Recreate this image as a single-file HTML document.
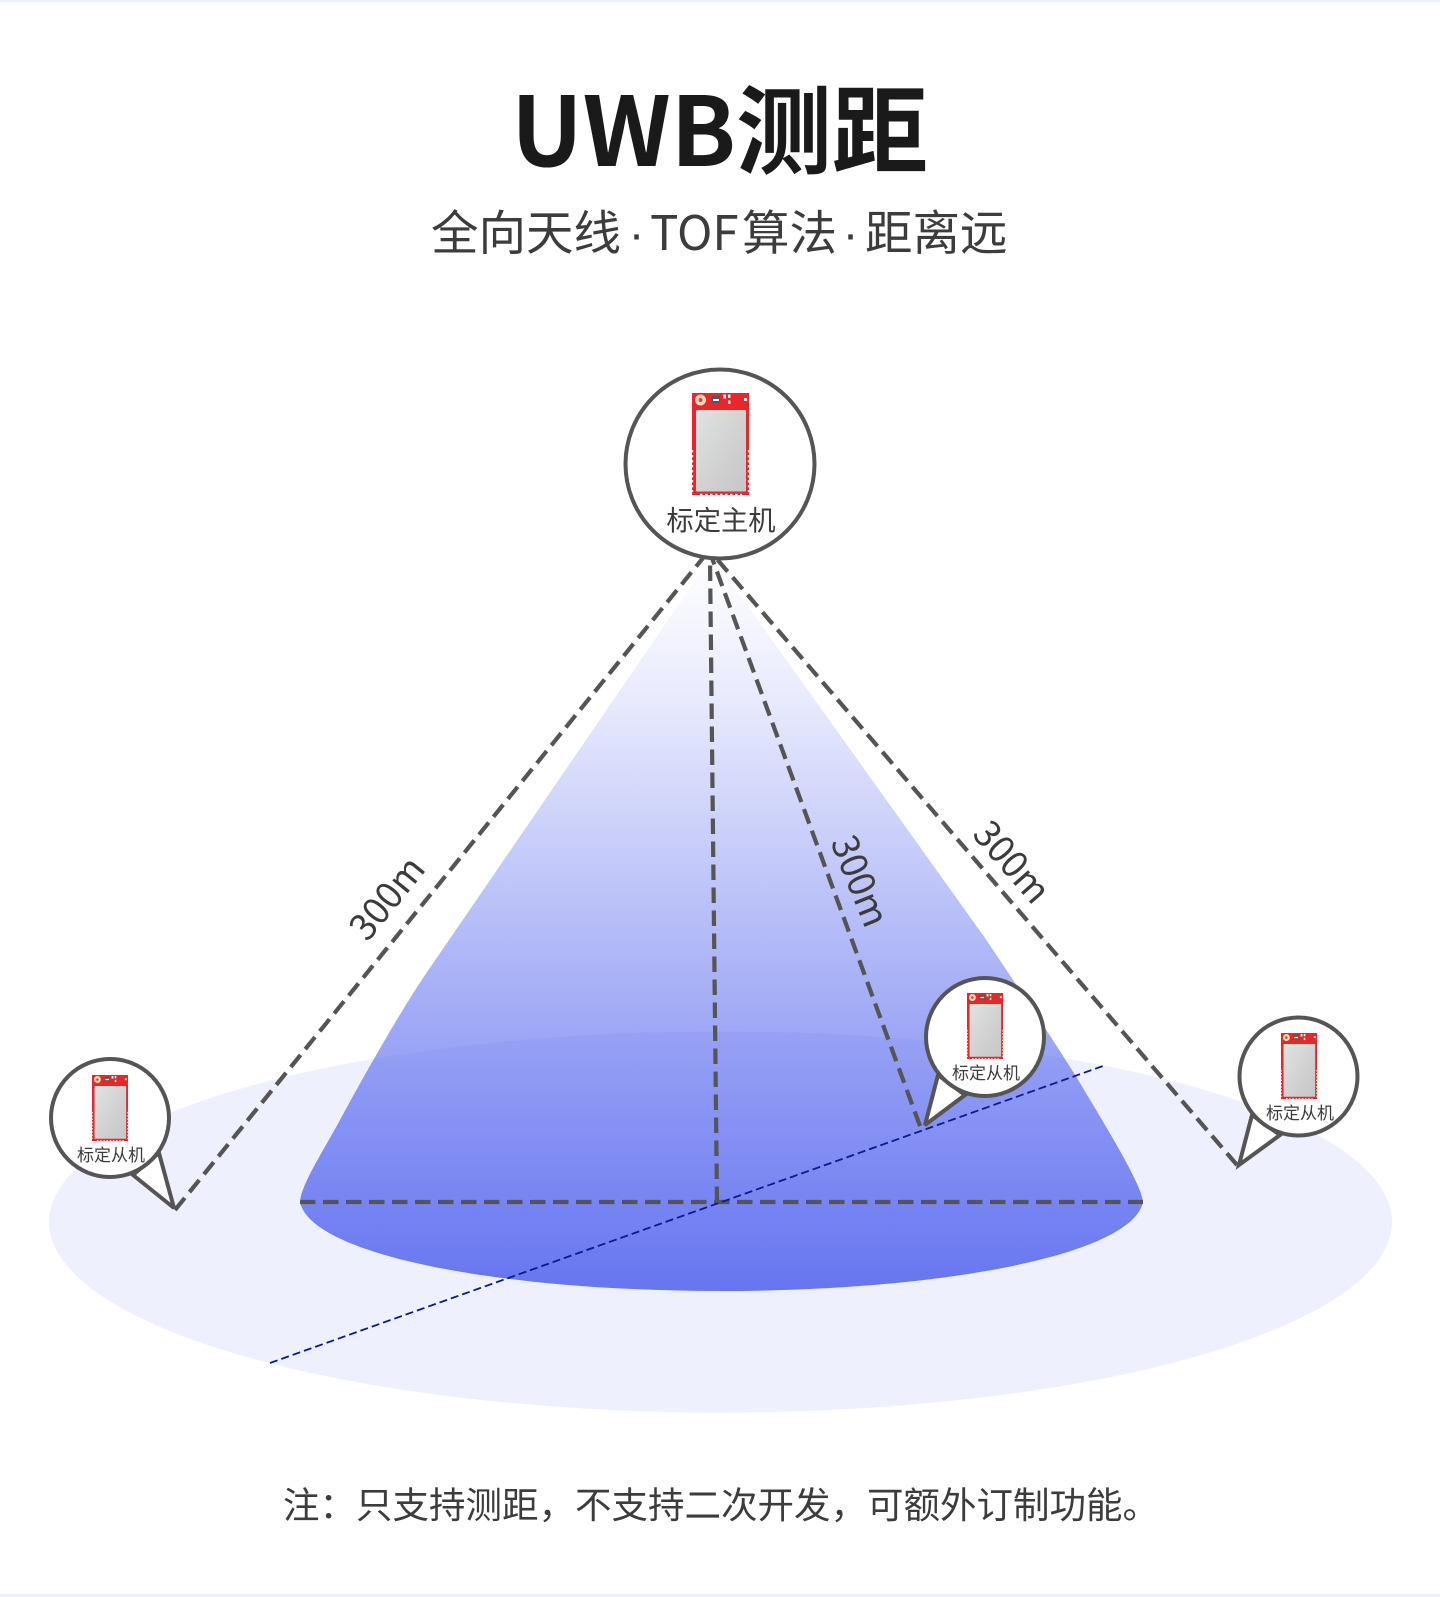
<!DOCTYPE html>
<html lang="zh"><head><meta charset="utf-8"><title>UWB测距</title>
<style>html,body{margin:0;padding:0;background:#fff}svg{display:block}text{font-family:"Noto Sans CJK SC","Liberation Sans",sans-serif}</style></head>
<body>
<svg width="1440" height="1597" viewBox="0 0 1440 1597" xmlns="http://www.w3.org/2000/svg">
<defs>
<linearGradient id="cone" gradientUnits="userSpaceOnUse" x1="0" y1="556" x2="0" y2="1291">
<stop offset="0" stop-color="#5b6bef" stop-opacity="0"/><stop offset=".196" stop-color="#5b6bef" stop-opacity=".14"/><stop offset=".604" stop-color="#5b6bef" stop-opacity=".55"/><stop offset="1" stop-color="#5b6bef" stop-opacity=".92"/></linearGradient>
<linearGradient id="shield" x1="0" y1="0" x2="1" y2="1"><stop offset="0" stop-color="#e0e3e3"/><stop offset=".6" stop-color="#d0d0d0"/><stop offset="1" stop-color="#c6c6c6"/></linearGradient>
<g id="chip">
<rect x="0" y="0" width="57" height="102" fill="#e8262c"/>
<line x1=".6" y1="57" x2=".6" y2="99" stroke="#fbe9e4" stroke-width="1.200" stroke-dasharray="2.400 2.600"/>
<line x1="56.400" y1="57" x2="56.400" y2="99" stroke="#fbe9e4" stroke-width="1.200" stroke-dasharray="2.400 2.600"/>
<line x1="8" y1="101.400" x2="50" y2="101.400" stroke="#fff" stroke-width="1.200" stroke-dasharray="2.400 2.600"/>
<rect x="4" y="17" width="50" height="81.500" rx="1" fill="url(#shield)"/>
<circle cx="8.500" cy="7" r="5.500" fill="#efd9b8"/><circle cx="8.500" cy="7" r="2" fill="#b9583f"/>
<rect x="20" y="3" width="8" height="7" fill="#555"/><rect x="21" y="6" width="6" height="2" fill="#eee"/><rect x="31" y="1.500" width="3" height="4" fill="#eee"/><rect x="36" y="1.500" width="2.500" height="3.500" fill="#eee"/><rect x="36" y="7.500" width="2.500" height="3.500" fill="#eee"/><rect x="52" y="5" width="3" height="3" fill="#eee"/>
</g>
</defs>
<rect width="1440" height="1597" fill="#fff"/>
<rect width="1440" height="2" fill="#eef0fd"/>
<rect y="1594" width="1440" height="3" fill="#eef0fd"/>

<text x="511" y="166" font-size="96" font-weight="700" fill="#1a1a1a">UWB测距</text>
<text y="250" font-size="47.500" fill="#3c3c3c"><tspan x="431">全向天线</tspan><tspan x="650">TOF</tspan><tspan x="742">算法</tspan><tspan x="865">距离远</tspan></text>
<text x="636.500" y="250" text-anchor="middle" font-size="47.500" fill="#3c3c3c" style="font-family:'Liberation Sans',sans-serif">·</text>
<text x="850.500" y="250" text-anchor="middle" font-size="47.500" fill="#3c3c3c" style="font-family:'Liberation Sans',sans-serif">·</text>

<ellipse cx="720.500" cy="1222" rx="671.500" ry="190.500" fill="#eef0fd"/>
<path d="M712 556 L425 975 C395 1020 360 1083 340 1120 C322 1153 301 1185 300 1202 C311 1255 500 1291 721 1291 C942 1291 1132 1255 1143 1202 C1142 1185 1105 1125 1080 1083 C1060 1050 1020 990 985 938 Z" fill="url(#cone)"/>

<g fill="none" stroke="#555" stroke-width="4.200" stroke-dasharray="15.500 7.500">
<line x1="175" y1="1210" x2="703" y2="558"/>
<line x1="717" y1="1202" x2="710" y2="558"/>
<line x1="920" y1="1126" x2="712" y2="558"/>
<line x1="1237" y1="1165" x2="716" y2="558"/>
<line x1="300" y1="1202" x2="1143" y2="1202"/>
</g>
<line x1="270" y1="1363" x2="1103" y2="1066" stroke="#0b1a8f" stroke-width="1.800" stroke-dasharray="8 4"/>

<text transform="translate(387 898) rotate(-51)" text-anchor="middle" dy="13" font-size="36.500" fill="#3c3c3c">300m</text>
<text transform="translate(860 881) rotate(68)" text-anchor="middle" dy="13" font-size="36.500" fill="#3c3c3c">300m</text>
<text transform="translate(1012 862) rotate(49)" text-anchor="middle" dy="13" font-size="36.500" fill="#3c3c3c">300m</text>

<!-- main -->
<circle cx="720" cy="464" r="94.500" fill="#fff" stroke="#555" stroke-width="4"/>
<use href="#chip" x="692" y="393"/>
<text x="721" y="530" text-anchor="middle" font-size="27.300" fill="#3c3c3c">标定主机</text>

<!-- left slave -->
<path d="M133 1175 L174 1208 L159 1153 Z" fill="#fff" stroke="#555" stroke-width="4" stroke-linejoin="miter" stroke-miterlimit="3"/>
<circle cx="110" cy="1118" r="59" fill="#fff" stroke="#555" stroke-width="4"/>
<use href="#chip" transform="translate(92 1075) scale(.632 .647)"/>
<text x="111" y="1161" text-anchor="middle" font-size="17" fill="#3c3c3c">标定从机</text>

<!-- middle slave -->
<path d="M938 1075 L925 1125 L965 1095 Z" fill="#fff" stroke="#555" stroke-width="4" stroke-miterlimit="3"/>
<circle cx="985" cy="1037" r="59" fill="#fff" stroke="#555" stroke-width="4"/>
<use href="#chip" transform="translate(967 993) scale(.632 .647)"/>
<text x="986" y="1079" text-anchor="middle" font-size="17" fill="#3c3c3c">标定从机</text>

<!-- right slave -->
<path d="M1252 1115 L1239 1165 L1280 1135 Z" fill="#fff" stroke="#555" stroke-width="4" stroke-miterlimit="3"/>
<circle cx="1298.500" cy="1076.500" r="59" fill="#fff" stroke="#555" stroke-width="4"/>
<use href="#chip" transform="translate(1281 1033) scale(.632 .647)"/>
<text x="1300" y="1119" text-anchor="middle" font-size="17" fill="#3c3c3c">标定从机</text>

<text x="283" y="1518" font-size="36.500" fill="#3c3c3c">注&#xFF1A;只支持测距&#xFF0C;不支持二次开发&#xFF0C;可额外订制功能&#x3002;</text>
</svg>
</body></html>
